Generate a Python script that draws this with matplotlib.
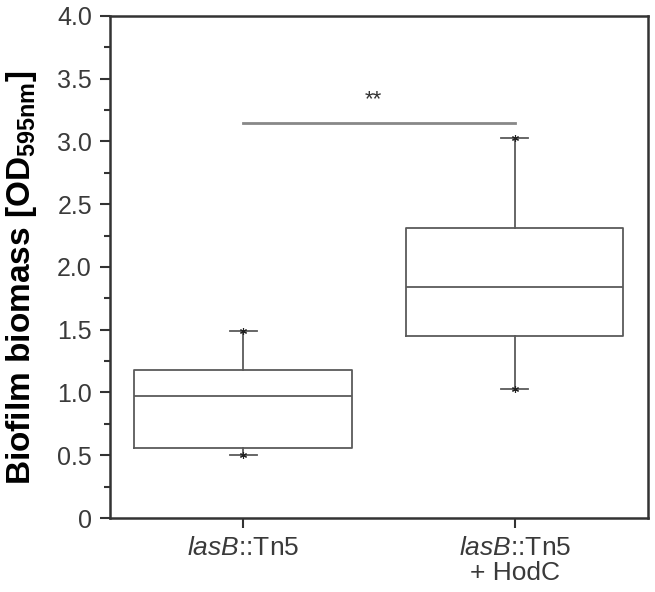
import matplotlib
matplotlib.use('Agg')
import matplotlib.pyplot as plt

# ── Data ──────────────────────────────────────────────────────────────────────
groups = ['$\\mathit{lasB}$::Tn5', '$\\mathit{lasB}$::Tn5\n+ HodC']
whislo = [0.50, 1.03]
q1 = [0.56, 1.45]
med = [0.97, 1.84]
q3 = [1.18, 2.31]
whishi = [1.49, 3.03]
sig_y = 3.15
sig_label = '**'

plt.rcParams['font.family'] = ['Liberation Sans', 'DejaVu Sans']
plt.rcParams['mathtext.fontset'] = 'custom'
plt.rcParams['mathtext.rm'] = 'Liberation Sans'
plt.rcParams['mathtext.it'] = 'Liberation Sans:italic'
plt.rcParams['mathtext.bf'] = 'Liberation Sans:bold'

fig = plt.figure(figsize=(6.55, 5.92), dpi=100)
ax = fig.add_axes([0.168, 0.125, 0.821, 0.848])

stats = []
for i in range(len(groups)):
    stats.append(dict(whislo=whislo[i], q1=q1[i], med=med[i], q3=q3[i],
                      whishi=whishi[i], fliers=[]))

pos = [1, 2]
lc = '#5a5a5a'
ax.bxp(stats, positions=pos, widths=0.8, showfliers=False,
       boxprops=dict(color=lc, linewidth=1.3),
       medianprops=dict(color=lc, linewidth=1.3),
       whiskerprops=dict(color=lc, linewidth=1.3),
       capprops=dict(color=lc, linewidth=1.3), capwidths=0.1)

# min / max markers
for i, p in enumerate(pos):
    ax.plot([p, p], [whislo[i], whishi[i]], linestyle='none', marker=(6, 2, 0),
            markersize=5, color='#222222', markeredgewidth=0.8)

# significance bar
ax.plot([pos[0], pos[1]], [sig_y, sig_y], color='#888888', linewidth=2)
ax.text((pos[0] + pos[1]) / 2 - 0.02, sig_y + 0.1, sig_label, ha='center', va='bottom',
        fontsize=16, color='#333333')

ax.set_xlim(0.51, 2.49)
ax.set_ylim(0, 4.0)
ax.set_yticks([0, 0.5, 1.0, 1.5, 2.0, 2.5, 3.0, 3.5, 4.0])
ax.set_yticklabels(['0', '0.5', '1.0', '1.5', '2.0', '2.5', '3.0', '3.5', '4.0'])
ax.set_yticks([0.25, 0.75, 1.25, 1.75, 2.25, 2.75, 3.25, 3.75], minor=True)
ax.set_xticks(pos)
ax.set_xticklabels(groups, linespacing=1.05)
ax.tick_params(axis='y', direction='out', length=7, width=1.5, labelsize=18,
               colors='#333333', pad=6)
ax.tick_params(axis='y', which='minor', direction='out', length=4, width=1.5, colors='#333333')
ax.tick_params(axis='x', direction='out', length=7, width=1.5, labelsize=19,
               colors='#333333', pad=6)
for lbl in ax.get_xticklabels() + ax.get_yticklabels():
    lbl.set_color('#3a3a3a')
for s in ax.spines.values():
    s.set_linewidth(1.8)
    s.set_color('#333333')

ax.set_ylabel('Biofilm biomass [OD$_{\\mathbf{595nm}}$]', fontsize=24, fontweight='bold',
              color='black')
ax.yaxis.set_label_coords(-0.132, 0.478)

fig.savefig('out.png', dpi=100)
